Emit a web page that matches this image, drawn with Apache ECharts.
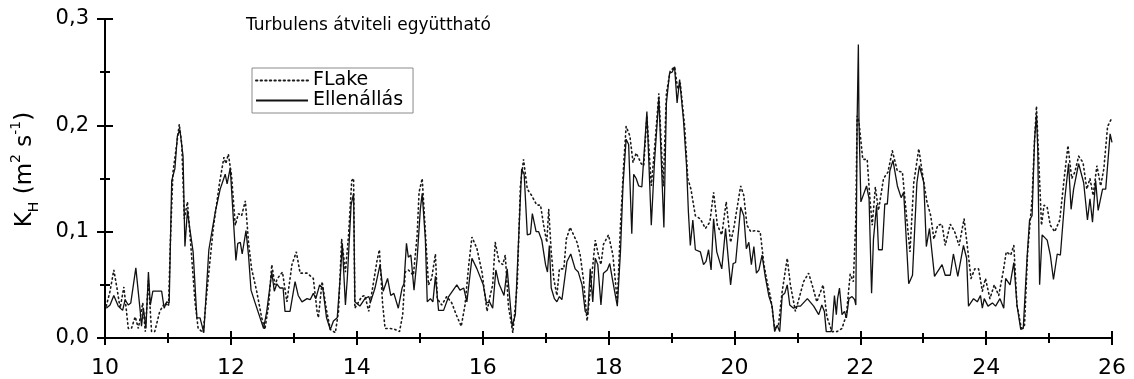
<!DOCTYPE html>
<html>
<head>
<meta charset="utf-8">
<script src="https://cdn.jsdelivr.net/npm/echarts@6/dist/echarts.min.js"></script>
<style>
html,body{margin:0;padding:0;background:#fff;}
#chart{width:1134px;height:379px;}
</style>
</head>
<body>
<div id="chart"></div>
<script>
// ---- data (day of month, K_H in m2/s) ----
const titleText = 'Turbulens átviteli együttható';
const seriesNames = ['FLake', 'Ellenállás'];
const xTicks = [10, 12, 14, 16, 18, 20, 22, 24, 26];
const yTicks = [0, 0.1, 0.2, 0.3];

const flakeDays = [10.02,10.08,10.14,10.19,10.24,10.30,10.37,10.42,10.48,10.53,10.60,10.64,10.69,10.74,10.79,10.87,10.95,11.01,11.04,11.08,11.13,11.18,11.22,11.26,11.31,11.36,11.43,11.48,11.56,11.63,11.72,11.82,11.89,11.92,11.96,12.01,12.07,12.12,12.17,12.23,12.28,12.33,12.41,12.49,12.54,12.60,12.65,12.70,12.74,12.82,12.89,12.97,13.04,13.10,13.21,13.31,13.37,13.39,13.45,13.52,13.58,13.66,13.71,13.76,13.82,13.87,13.92,13.95,13.97,14.03,14.08,14.13,14.19,14.26,14.32,14.36,14.41,14.45,14.53,14.61,14.68,14.73,14.77,14.82,14.90,14.96,14.99,15.04,15.09,15.14,15.19,15.25,15.28,15.35,15.43,15.51,15.58,15.66,15.72,15.78,15.83,15.91,15.99,16.07,16.12,16.16,16.20,16.26,16.32,16.36,16.41,16.48,16.55,16.60,16.65,16.71,16.78,16.86,16.92,16.97,17.02,17.05,17.09,17.13,17.18,17.22,17.29,17.33,17.39,17.50,17.55,17.60,17.66,17.72,17.79,17.84,17.88,17.92,18.00,18.07,18.14,18.19,18.24,18.28,18.34,18.39,18.44,18.52,18.56,18.61,18.68,18.74,18.80,18.87,18.92,18.98,19.05,19.10,19.14,19.21,19.26,19.31,19.38,19.46,19.54,19.61,19.67,19.73,19.80,19.87,19.94,19.99,20.10,20.15,20.20,20.26,20.33,20.41,20.47,20.52,20.58,20.64,20.70,20.76,20.84,20.89,20.97,21.04,21.10,21.18,21.25,21.31,21.41,21.47,21.55,21.63,21.71,21.78,21.84,21.89,21.93,21.95,21.98,22.04,22.11,22.15,22.19,22.24,22.29,22.37,22.44,22.51,22.59,22.67,22.73,22.79,22.85,22.93,23.00,23.06,23.12,23.17,23.23,23.30,23.35,23.43,23.50,23.57,23.65,23.70,23.76,23.82,23.88,23.94,23.99,24.06,24.13,24.20,24.27,24.32,24.39,24.44,24.49,24.56,24.61,24.66,24.73,24.77,24.80,24.84,24.88,24.92,24.97,25.02,25.09,25.17,25.24,25.30,25.36,25.41,25.47,25.54,25.60,25.65,25.70,25.76,25.82,25.87,25.93,25.99];
const flakeVals = [0.030,0.044,0.064,0.047,0.028,0.048,0.009,0.009,0.020,0.009,0.033,0.006,0.054,0.006,0.006,0.025,0.033,0.030,0.093,0.156,0.178,0.201,0.182,0.112,0.128,0.090,0.034,0.009,0.005,0.050,0.103,0.146,0.170,0.164,0.173,0.153,0.106,0.117,0.115,0.129,0.090,0.065,0.044,0.019,0.008,0.031,0.069,0.050,0.056,0.062,0.034,0.069,0.081,0.061,0.061,0.056,0.025,0.019,0.053,0.026,0.008,0.005,0.025,0.093,0.062,0.097,0.148,0.150,0.028,0.034,0.039,0.040,0.025,0.050,0.072,0.083,0.033,0.009,0.009,0.008,0.006,0.022,0.062,0.064,0.059,0.097,0.137,0.150,0.100,0.050,0.056,0.079,0.037,0.031,0.039,0.033,0.022,0.011,0.031,0.069,0.095,0.084,0.062,0.025,0.040,0.050,0.090,0.072,0.069,0.078,0.030,0.005,0.050,0.143,0.168,0.140,0.134,0.125,0.125,0.106,0.090,0.121,0.081,0.056,0.040,0.065,0.065,0.093,0.104,0.090,0.078,0.056,0.016,0.050,0.092,0.078,0.069,0.088,0.097,0.078,0.034,0.106,0.162,0.199,0.190,0.165,0.174,0.164,0.162,0.209,0.143,0.184,0.230,0.143,0.230,0.251,0.255,0.234,0.240,0.199,0.150,0.140,0.115,0.112,0.103,0.109,0.137,0.106,0.097,0.128,0.090,0.103,0.143,0.134,0.106,0.100,0.101,0.100,0.069,0.053,0.037,0.009,0.012,0.044,0.075,0.050,0.025,0.040,0.053,0.061,0.047,0.034,0.050,0.020,0.006,0.006,0.009,0.022,0.060,0.053,0.112,0.209,0.203,0.168,0.168,0.134,0.106,0.142,0.120,0.150,0.156,0.176,0.157,0.156,0.118,0.081,0.146,0.178,0.150,0.128,0.115,0.093,0.106,0.107,0.087,0.107,0.100,0.087,0.112,0.087,0.056,0.065,0.065,0.044,0.056,0.037,0.050,0.040,0.062,0.081,0.078,0.087,0.031,0.009,0.012,0.081,0.131,0.187,0.218,0.162,0.106,0.125,0.123,0.106,0.100,0.111,0.150,0.181,0.150,0.156,0.171,0.165,0.140,0.150,0.134,0.162,0.143,0.159,0.199,0.206];

const ellDays = [10.02,10.08,10.14,10.21,10.28,10.32,10.37,10.41,10.49,10.56,10.58,10.61,10.65,10.69,10.72,10.76,10.79,10.90,10.94,10.98,11.02,11.06,11.11,11.15,11.19,11.24,11.27,11.31,11.34,11.40,11.46,11.51,11.57,11.65,11.75,11.83,11.91,11.94,11.99,12.03,12.08,12.11,12.15,12.18,12.24,12.28,12.32,12.38,12.52,12.57,12.65,12.69,12.73,12.78,12.83,12.86,12.94,13.02,13.07,13.13,13.21,13.26,13.31,13.35,13.41,13.46,13.52,13.58,13.63,13.69,13.74,13.77,13.82,13.85,13.91,13.95,13.97,14.05,14.13,14.19,14.22,14.29,14.37,14.42,14.49,14.54,14.59,14.66,14.72,14.75,14.79,14.82,14.86,14.91,14.96,15.01,15.04,15.09,15.12,15.17,15.21,15.25,15.30,15.38,15.46,15.59,15.64,15.70,15.75,15.83,15.91,16.01,16.06,16.11,16.16,16.21,16.26,16.34,16.39,16.47,16.52,16.62,16.66,16.71,16.76,16.79,16.85,16.89,16.94,17.00,17.03,17.06,17.09,17.14,17.18,17.22,17.26,17.34,17.40,17.47,17.52,17.58,17.63,17.67,17.71,17.75,17.79,17.83,17.88,17.92,17.98,18.02,18.06,18.14,18.19,18.23,18.28,18.32,18.37,18.40,18.44,18.48,18.53,18.61,18.68,18.73,18.80,18.88,18.92,18.97,19.01,19.05,19.09,19.13,19.19,19.24,19.27,19.30,19.34,19.38,19.46,19.51,19.55,19.59,19.63,19.67,19.72,19.80,19.86,19.89,19.94,19.98,20.02,20.10,20.15,20.19,20.23,20.27,20.31,20.35,20.39,20.44,20.49,20.55,20.60,20.64,20.68,20.72,20.76,20.80,20.84,20.88,20.94,21.00,21.05,21.16,21.26,21.34,21.39,21.43,21.46,21.53,21.55,21.59,21.62,21.64,21.67,21.71,21.75,21.78,21.82,21.87,21.91,21.93,21.95,21.97,21.98,22.01,22.10,22.14,22.18,22.21,22.26,22.29,22.35,22.39,22.43,22.47,22.52,22.59,22.65,22.69,22.77,22.83,22.90,22.94,23.01,23.05,23.10,23.18,23.30,23.35,23.43,23.48,23.55,23.64,23.69,23.72,23.80,23.86,23.91,23.94,23.97,24.03,24.10,24.15,24.22,24.28,24.31,24.38,24.44,24.49,24.55,24.59,24.65,24.69,24.73,24.77,24.80,24.82,24.85,24.89,24.97,25.02,25.07,25.13,25.18,25.25,25.31,25.35,25.39,25.47,25.55,25.61,25.65,25.69,25.74,25.78,25.85,25.90,25.97,26.00];
const ellVals = [0.028,0.031,0.040,0.030,0.026,0.036,0.031,0.033,0.066,0.025,0.011,0.028,0.009,0.062,0.031,0.044,0.044,0.044,0.028,0.034,0.033,0.148,0.159,0.190,0.196,0.171,0.086,0.120,0.106,0.081,0.019,0.019,0.005,0.083,0.118,0.140,0.154,0.145,0.160,0.121,0.073,0.089,0.090,0.079,0.101,0.078,0.045,0.034,0.009,0.025,0.062,0.044,0.051,0.047,0.047,0.025,0.025,0.053,0.040,0.034,0.037,0.036,0.042,0.037,0.050,0.047,0.019,0.008,0.016,0.019,0.059,0.089,0.031,0.056,0.125,0.136,0.034,0.030,0.037,0.039,0.034,0.047,0.069,0.044,0.056,0.040,0.042,0.028,0.047,0.051,0.089,0.076,0.078,0.045,0.075,0.121,0.136,0.093,0.034,0.037,0.034,0.058,0.026,0.026,0.039,0.050,0.045,0.047,0.034,0.075,0.065,0.050,0.033,0.034,0.028,0.064,0.051,0.040,0.065,0.011,0.022,0.159,0.154,0.097,0.098,0.117,0.100,0.100,0.092,0.069,0.062,0.087,0.047,0.037,0.034,0.039,0.036,0.072,0.079,0.065,0.062,0.050,0.025,0.022,0.065,0.034,0.075,0.069,0.031,0.061,0.064,0.070,0.056,0.030,0.081,0.143,0.187,0.182,0.098,0.154,0.150,0.143,0.142,0.213,0.106,0.165,0.226,0.104,0.221,0.249,0.250,0.255,0.221,0.243,0.206,0.162,0.118,0.087,0.111,0.083,0.081,0.069,0.072,0.083,0.064,0.112,0.081,0.065,0.103,0.103,0.050,0.070,0.071,0.123,0.115,0.084,0.090,0.069,0.086,0.061,0.064,0.078,0.058,0.039,0.030,0.006,0.012,0.006,0.040,0.042,0.050,0.031,0.028,0.030,0.030,0.037,0.030,0.022,0.031,0.025,0.006,0.006,0.008,0.040,0.022,0.037,0.047,0.022,0.025,0.019,0.037,0.039,0.036,0.031,0.203,0.276,0.203,0.128,0.143,0.131,0.042,0.093,0.125,0.083,0.083,0.126,0.126,0.157,0.167,0.143,0.132,0.137,0.051,0.059,0.146,0.162,0.146,0.086,0.103,0.058,0.069,0.059,0.059,0.079,0.058,0.087,0.075,0.030,0.037,0.034,0.040,0.028,0.037,0.030,0.033,0.030,0.037,0.028,0.056,0.050,0.071,0.031,0.008,0.009,0.075,0.111,0.115,0.187,0.210,0.178,0.050,0.097,0.092,0.078,0.055,0.079,0.078,0.131,0.164,0.121,0.140,0.164,0.146,0.111,0.131,0.109,0.148,0.120,0.140,0.140,0.192,0.184];

// ---- chart ----
const FONT = 'DejaVu Sans';
const fmtY = v => v.toFixed(1).replace('.', ',');
const pair = (xs, ys) => xs.map((x, i) => [x, ys[i]]);

const chart = echarts.init(document.getElementById('chart'), null, {renderer: 'canvas'});

const X_MIN = xTicks[0], X_MAX = xTicks[xTicks.length - 1];
const Y_MIN = yTicks[0], Y_MAX = yTicks[yTicks.length - 1];

// tick-only companion axes (ticks crossing the axis line: outward + inward copies, major + minor)
function xTickAxis(interval, inside, len, width) {
  return {
    type: 'value', min: X_MIN, max: X_MAX, interval: interval, position: 'bottom',
    splitLine: {show: false},
    axisLine: {show: false, onZero: false},
    axisTick: {show: true, inside: inside, length: len, lineStyle: {color: '#000', width: width}},
    axisLabel: {show: false}
  };
}
function yTickAxis(interval, inside, len, width) {
  return {
    type: 'value', min: Y_MIN, max: Y_MAX, interval: interval, position: 'left',
    splitLine: {show: false},
    axisLine: {show: false, onZero: false},
    axisTick: {show: true, inside: inside, length: len, lineStyle: {color: '#000', width: width}},
    axisLabel: {show: false}
  };
}
function companion(i) {
  return {
    name: 'ticks-' + i, type: 'line', xAxisIndex: i, yAxisIndex: i,
    data: pair(ellDays, ellVals),
    symbol: 'none', showSymbol: false, silent: true,
    lineStyle: {opacity: 0}, itemStyle: {opacity: 0}, z: 0
  };
}

chart.setOption({
  animation: false,
  backgroundColor: '#fff',
  textStyle: {fontFamily: FONT, color: '#000'},
  title: {
    text: titleText, left: 246, top: 17, padding: 0,
    textStyle: {fontFamily: FONT, fontSize: 17, fontWeight: 'normal', color: '#000'}
  },
  legend: {
    orient: 'vertical', left: 252, top: 68,
    padding: [3, 10, 3, 3], itemGap: 1,
    itemWidth: 52, itemHeight: 12,
    borderColor: '#8a8a8a', borderWidth: 1,
    itemStyle: {opacity: 0},
    textStyle: {fontFamily: FONT, fontSize: 19, lineHeight: 18, color: '#000'},
    data: seriesNames
  },
  grid: {left: 105, right: 22, top: 19, bottom: 39, containLabel: false},
  xAxis: [
    {
      type: 'value', min: X_MIN, max: X_MAX, interval: 2, position: 'bottom',
      splitLine: {show: false},
      axisLine: {show: true, onZero: false, lineStyle: {color: '#000', width: 2}},
      axisTick: {show: true, inside: false, length: 7, lineStyle: {color: '#000', width: 2}},
      axisLabel: {margin: 19, fontFamily: FONT, fontSize: 22, color: '#000', formatter: v => String(v)}
    },
    xTickAxis(2, true, 7, 2),
    xTickAxis(1, false, 5, 2),
    xTickAxis(1, true, 5, 2)
  ],
  yAxis: [
    {
      type: 'value', min: Y_MIN, max: Y_MAX, interval: 0.1, position: 'left',
      splitLine: {show: false},
      axisLine: {show: true, onZero: false, lineStyle: {color: '#000', width: 2}},
      axisTick: {show: true, inside: false, length: 8, lineStyle: {color: '#000', width: 2}},
      axisLabel: {margin: 16, fontFamily: FONT, fontSize: 21, color: '#000', formatter: fmtY},
      name: '{n|K}{sub|H}{n| (m}{sup|2}{n| s}{sup|-1}{n|)}',
      nameLocation: 'middle', nameGap: 64, nameRotate: 90,
      nameTextStyle: {
        fontFamily: FONT, color: '#000', padding: [0, 0, 0, 18],
        rich: {
          n: {fontFamily: FONT, fontSize: 23, color: '#000', lineHeight: 32, verticalAlign: 'middle'},
          sub: {fontFamily: FONT, fontSize: 14, color: '#000', lineHeight: 32, verticalAlign: 'bottom'},
          sup: {fontFamily: FONT, fontSize: 14, color: '#000', lineHeight: 32, verticalAlign: 'top'}
        }
      }
    },
    yTickAxis(0.1, true, 8, 2),
    yTickAxis(0.05, false, 5, 2),
    yTickAxis(0.05, true, 5, 2)
  ],
  series: [
    {
      name: seriesNames[0], type: 'line', xAxisIndex: 0, yAxisIndex: 0,
      data: pair(flakeDays, flakeVals),
      symbol: 'none', showSymbol: false,
      lineStyle: {color: '#1a1a1a', width: 1.6, type: [1.4, 3.2], cap: 'round'},
      itemStyle: {color: '#1a1a1a'},
      z: 2
    },
    {
      name: seriesNames[1], type: 'line', xAxisIndex: 0, yAxisIndex: 0,
      data: pair(ellDays, ellVals),
      symbol: 'none', showSymbol: false,
      lineStyle: {color: '#111', width: 1.3},
      itemStyle: {color: '#111'},
      z: 3
    },
    companion(1), companion(2), companion(3)
  ]
});
</script>
</body>
</html>
